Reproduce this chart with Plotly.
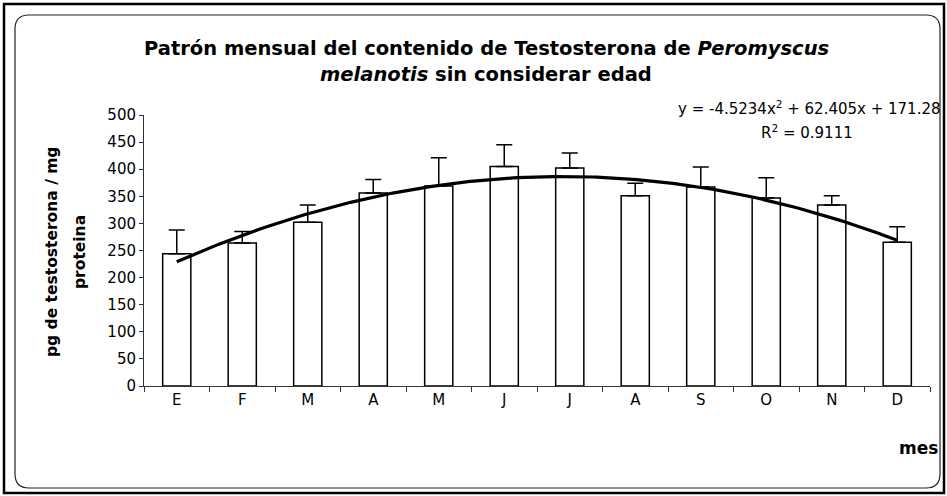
import numpy as np
import plotly.graph_objects as go

months = ["E", "F", "M", "A", "M", "J", "J", "A", "S", "O", "N", "D"]
month_idx = list(range(1, 13))
testosterone = [244, 264, 302, 356, 369, 405, 402, 351, 367, 347, 334, 265]
error_plus = [44, 21, 32, 25, 52, 40, 28, 23, 37, 37, 17, 29]
trend_coef = [-4.5234, 62.405, 171.28]  # y = a x^2 + b x + c
y_ticks = list(range(0, 501, 50))

W, H = 947, 496
L, R, T, B = 144, 17, 115, 110
PW, PH = W - L - R, H - T - B

def px(x):
    return (x - L) / PW

def py(y):
    return (H - B - y) / PH

FONT = "DejaVu Sans, Liberation Sans, Arial, sans-serif"

fig = go.Figure()
fig.add_trace(go.Bar(
    x=month_idx, y=testosterone,
    marker=dict(color="white", line=dict(color="black", width=1.5)),
    width=0.43,
    error_y=dict(type="data", array=error_plus, arrayminus=[0] * 12,
                 symmetric=False, color="black", thickness=1.5, width=8),
    showlegend=False,
))

xt = np.linspace(1, 12, 200)
yt = np.polyval(trend_coef, xt)
fig.add_trace(go.Scatter(x=xt, y=yt, mode="lines",
                         line=dict(color="black", width=3.2), showlegend=False))

fig.update_xaxes(
    range=[0.5, 12.5], tickvals=month_idx, ticktext=months, ticks="",
    showline=True, linecolor="#333", linewidth=1, showgrid=False,
    zeroline=False, tickfont=dict(size=15, color="black", family=FONT),
    minor=dict(tick0=0.5, dtick=1, ticks="outside", ticklen=5,
               tickcolor="#333", showgrid=False),
)
fig.update_yaxes(
    range=[0, 500], tickvals=y_ticks, ticks="outside", ticklen=4,
    tickcolor="#333", showline=True, linecolor="#333", linewidth=1,
    showgrid=False, zeroline=False,
    tickfont=dict(size=15, color="black", family=FONT),
)

# Frames
shapes = []
shapes.append(dict(type="rect", xref="paper", yref="paper",
                   x0=px(4), x1=px(944), y0=py(493), y1=py(4),
                   line=dict(color="black", width=2.5)))
x0, x1, y0, y1, r = 15, 940, 15, 488, 14
path = (f"M {px(x0 + r)} {py(y0)} L {px(x1 - r)} {py(y0)} "
        f"Q {px(x1)} {py(y0)} {px(x1)} {py(y0 + r)} "
        f"L {px(x1)} {py(y1 - r)} Q {px(x1)} {py(y1)} {px(x1 - r)} {py(y1)} "
        f"L {px(x0 + r)} {py(y1)} Q {px(x0)} {py(y1)} {px(x0)} {py(y1 - r)} "
        f"L {px(x0)} {py(y0 + r)} Q {px(x0)} {py(y0)} {px(x0 + r)} {py(y0)} Z")
shapes.append(dict(type="path", xref="paper", yref="paper", path=path,
                   line=dict(color="#222", width=1.2)))

annotations = [
    dict(xref="paper", yref="paper", x=px(486), y=py(48), xanchor="center",
         yanchor="middle", showarrow=False,
         text="<b>Patrón mensual del contenido de Testosterona de <i>Peromyscus</i></b>",
         font=dict(size=19.5, color="black", family=FONT)),
    dict(xref="paper", yref="paper", x=px(486), y=py(74), xanchor="center",
         yanchor="middle", showarrow=False,
         text="<b><i>melanotis</i> sin considerar edad</b>",
         font=dict(size=19.5, color="black", family=FONT)),
    dict(xref="paper", yref="paper", x=px(943), y=py(108), xanchor="right",
         yanchor="middle", showarrow=False,
         text="y = -4.5234x<sup>2</sup> + 62.405x + 171.28",
         font=dict(size=15, color="black", family=FONT)),
    dict(xref="paper", yref="paper", x=px(855), y=py(132), xanchor="right",
         yanchor="middle", showarrow=False,
         text="R<sup>2</sup> = 0.9111",
         font=dict(size=15, color="black", family=FONT)),
    dict(xref="paper", yref="paper", x=px(52), y=py(252), xanchor="center",
         yanchor="middle", showarrow=False, textangle=-90,
         text="<b>pg de testosterona / mg</b>",
         font=dict(size=15.5, color="black", family=FONT)),
    dict(xref="paper", yref="paper", x=px(80), y=py(252), xanchor="center",
         yanchor="middle", showarrow=False, textangle=-90,
         text="<b>proteina</b>",
         font=dict(size=15.5, color="black", family=FONT)),
    dict(xref="paper", yref="paper", x=px(940), y=py(448), xanchor="right",
         yanchor="middle", showarrow=False, text="<b>mes</b>",
         font=dict(size=17, color="black", family=FONT)),
]

fig.update_layout(
    width=W, height=H, margin=dict(l=L, r=R, t=T, b=B),
    paper_bgcolor="white", plot_bgcolor="white",
    shapes=shapes, annotations=annotations, bargap=0.57,
)
fig.write_html(
    "out.html",
    config={"displayModeBar": False},
    post_script="document.body.style.margin='0';document.body.style.padding='0';"
                "document.body.style.overflow='hidden';",
)
